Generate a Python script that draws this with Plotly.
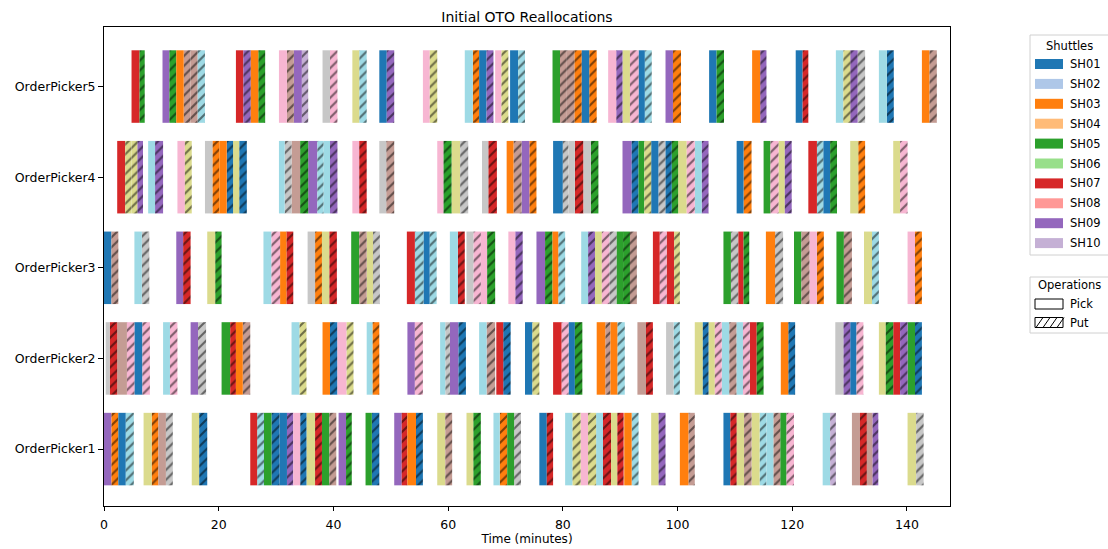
import plotly.graph_objects as go

# ---------------- data ----------------
pickers = ["OrderPicker1", "OrderPicker2", "OrderPicker3", "OrderPicker4", "OrderPicker5"]

tab20 = ["#1f77b4", "#aec7e8", "#ff7f0e", "#ffbb78", "#2ca02c", "#98df8a", "#d62728",
         "#ff9896", "#9467bd", "#c5b0d5", "#8c564b", "#c49c94", "#e377c2", "#f7b6d2",
         "#7f7f7f", "#c7c7c7", "#bcbd22", "#dbdb8d", "#17becf", "#9edae5"]
shuttle_names = ["SH%02d" % i for i in range(1, 21)]
legend_shuttles = shuttle_names[:10]
operations = ["Pick", "Put"]

# (start, end, shuttle, operation)  P = Pick, U = Put
op1_tasks = [
    (0.0, 1.3, "SH09", "P"), (1.3, 2.5, "SH03", "U"), (2.5, 3.8, "SH01", "P"), (3.8, 5.2, "SH20", "U"),
    (6.9, 8.3, "SH18", "P"), (8.3, 9.5, "SH03", "U"), (9.5, 10.8, "SH12", "P"), (10.8, 12.0, "SH16", "U"),
    (15.3, 16.6, "SH18", "P"), (16.6, 18.0, "SH01", "U"),
    (25.5, 26.7, "SH07", "P"), (26.7, 27.9, "SH20", "U"), (27.9, 29.2, "SH05", "P"), (29.2, 30.6, "SH01", "U"),
    (30.6, 31.9, "SH01", "P"), (31.9, 33.0, "SH09", "U"), (33.0, 34.2, "SH14", "P"), (34.2, 35.3, "SH01", "U"),
    (35.3, 36.8, "SH18", "P"), (36.8, 38.0, "SH07", "U"), (38.0, 39.3, "SH05", "P"), (39.3, 40.5, "SH12", "U"),
    (40.9, 42.2, "SH09", "P"), (42.2, 43.2, "SH05", "U"),
    (45.6, 46.7, "SH05", "P"), (46.7, 48.0, "SH01", "U"),
    (50.6, 51.9, "SH09", "P"), (51.9, 52.9, "SH07", "U"), (52.9, 54.4, "SH03", "P"), (54.4, 55.6, "SH01", "U"),
    (58.1, 59.5, "SH18", "P"), (59.5, 60.7, "SH12", "U"),
    (63.2, 64.4, "SH18", "P"), (64.4, 65.7, "SH05", "U"),
    (67.9, 69.0, "SH20", "P"), (69.0, 70.3, "SH03", "U"), (70.3, 71.5, "SH05", "P"), (71.5, 72.7, "SH16", "U"),
    (75.9, 77.2, "SH01", "P"), (77.2, 78.3, "SH07", "U"),
    (80.4, 81.7, "SH20", "P"), (81.7, 83.1, "SH18", "U"), (83.1, 84.4, "SH14", "P"), (84.4, 85.8, "SH18", "U"),
    (85.8, 87.0, "SH20", "P"), (87.0, 88.4, "SH07", "U"), (88.4, 89.5, "SH18", "P"), (89.5, 90.6, "SH07", "U"),
    (90.7, 92.0, "SH03", "P"), (92.0, 93.2, "SH20", "U"),
    (95.4, 96.7, "SH18", "P"), (96.7, 97.9, "SH09", "U"),
    (100.4, 101.9, "SH03", "P"), (101.9, 103.0, "SH12", "U"),
    (108.0, 109.2, "SH01", "P"), (109.2, 110.3, "SH07", "U"), (110.3, 111.6, "SH18", "P"), (111.6, 112.9, "SH12", "U"),
    (112.9, 114.3, "SH18", "P"), (114.3, 115.5, "SH20", "U"), (115.5, 116.7, "SH20", "P"), (116.7, 117.9, "SH12", "U"),
    (117.9, 119.0, "SH05", "P"), (119.0, 120.3, "SH14", "U"),
    (125.3, 126.6, "SH20", "P"), (126.6, 127.6, "SH10", "U"),
    (130.4, 131.8, "SH12", "P"), (131.8, 133.0, "SH07", "U"), (133.0, 134.0, "SH12", "P"), (134.0, 135.0, "SH09", "U"),
    (140.1, 141.6, "SH18", "P"), (141.6, 142.9, "SH16", "U"),
]

op2_tasks = [
    (0.3, 1.0, "SH16", "P"), (1.0, 2.3, "SH07", "U"), (2.3, 4.0, "SH12", "P"), (4.0, 5.3, "SH14", "U"),
    (5.3, 6.7, "SH01", "P"), (6.7, 8.0, "SH14", "U"),
    (10.3, 11.5, "SH20", "P"), (11.5, 12.8, "SH14", "U"),
    (15.1, 16.4, "SH09", "P"), (16.4, 17.8, "SH16", "U"),
    (20.5, 22.0, "SH05", "P"), (22.0, 23.0, "SH07", "U"), (23.0, 24.2, "SH03", "P"), (24.2, 25.5, "SH12", "U"),
    (32.7, 34.1, "SH20", "P"), (34.1, 35.3, "SH18", "U"),
    (38.1, 39.4, "SH03", "P"), (39.4, 40.7, "SH01", "U"), (40.7, 42.3, "SH14", "P"), (42.3, 43.5, "SH18", "U"),
    (45.8, 46.8, "SH20", "P"), (46.8, 48.0, "SH03", "U"),
    (52.9, 54.2, "SH09", "P"), (54.2, 55.6, "SH14", "U"),
    (58.6, 59.5, "SH20", "P"), (59.5, 60.3, "SH16", "U"), (60.3, 61.8, "SH09", "P"), (61.8, 63.1, "SH01", "U"),
    (65.4, 66.7, "SH20", "P"), (66.7, 68.2, "SH12", "U"), (68.4, 69.6, "SH07", "P"), (69.6, 70.9, "SH01", "U"),
    (73.4, 74.7, "SH01", "P"), (74.7, 75.9, "SH18", "U"),
    (78.3, 79.8, "SH07", "P"), (79.8, 81.0, "SH14", "U"), (81.0, 82.1, "SH01", "P"), (82.1, 83.4, "SH05", "U"),
    (85.9, 87.4, "SH03", "P"), (87.4, 88.3, "SH12", "U"), (88.3, 89.5, "SH03", "P"), (89.5, 90.8, "SH20", "U"),
    (93.0, 94.5, "SH12", "P"), (94.5, 95.7, "SH07", "U"),
    (98.0, 99.3, "SH16", "P"), (99.3, 100.4, "SH20", "U"),
    (103.0, 104.4, "SH18", "P"), (104.4, 105.4, "SH01", "U"), (105.4, 106.5, "SH18", "P"), (106.5, 107.7, "SH14", "U"),
    (107.7, 109.0, "SH20", "P"), (109.0, 110.3, "SH12", "U"), (110.3, 111.4, "SH20", "P"), (111.4, 112.6, "SH14", "U"),
    (112.6, 113.8, "SH07", "P"), (113.8, 115.0, "SH05", "U"),
    (118.0, 119.3, "SH03", "P"), (119.3, 120.5, "SH01", "U"),
    (127.5, 128.9, "SH16", "P"), (128.9, 130.1, "SH09", "U"), (130.1, 131.2, "SH01", "P"), (131.2, 132.4, "SH14", "U"),
    (135.1, 136.3, "SH18", "P"), (136.3, 137.6, "SH05", "U"), (137.6, 138.8, "SH07", "P"), (138.8, 140.1, "SH09", "U"),
    (140.1, 141.4, "SH05", "P"), (141.4, 142.6, "SH01", "U"),
]

op3_tasks = [
    (0.0, 1.3, "SH01", "P"), (1.3, 2.5, "SH12", "U"),
    (5.3, 6.6, "SH20", "P"), (6.6, 7.9, "SH16", "U"),
    (12.6, 13.8, "SH09", "P"), (13.8, 15.1, "SH07", "U"),
    (18.0, 19.4, "SH18", "P"), (19.4, 20.5, "SH05", "U"),
    (27.8, 29.2, "SH20", "P"), (29.2, 30.7, "SH14", "U"), (30.7, 31.8, "SH03", "P"), (31.8, 33.0, "SH07", "U"),
    (35.5, 36.8, "SH16", "P"), (36.8, 38.0, "SH03", "U"), (38.0, 39.3, "SH18", "P"), (39.3, 40.6, "SH07", "U"),
    (43.1, 44.5, "SH05", "P"), (44.5, 45.8, "SH12", "U"), (45.8, 46.9, "SH18", "P"), (46.9, 48.1, "SH16", "U"),
    (52.8, 54.2, "SH07", "P"), (54.2, 55.7, "SH20", "U"), (55.7, 56.8, "SH01", "P"), (56.8, 58.0, "SH20", "U"),
    (60.3, 61.7, "SH20", "P"), (61.7, 62.9, "SH07", "U"), (63.2, 64.4, "SH16", "P"), (64.4, 65.7, "SH14", "U"),
    (65.7, 66.8, "SH14", "P"), (66.8, 68.2, "SH05", "U"),
    (70.5, 71.7, "SH14", "P"), (71.7, 73.0, "SH09", "U"),
    (75.4, 76.9, "SH09", "P"), (76.9, 78.2, "SH05", "U"), (78.2, 79.2, "SH03", "P"), (79.2, 80.4, "SH20", "U"),
    (83.2, 84.4, "SH20", "P"), (84.4, 85.6, "SH09", "U"), (85.6, 86.8, "SH18", "P"), (86.8, 88.1, "SH14", "U"),
    (88.1, 89.4, "SH16", "U"), (89.4, 90.5, "SH05", "P"), (90.5, 91.7, "SH05", "U"), (91.7, 92.9, "SH12", "U"),
    (95.7, 96.9, "SH07", "P"), (96.9, 98.1, "SH14", "U"), (98.1, 99.4, "SH07", "P"), (99.4, 100.4, "SH18", "U"),
    (108.0, 109.3, "SH05", "P"), (109.3, 110.6, "SH16", "U"), (110.6, 111.5, "SH07", "P"), (111.5, 112.5, "SH05", "U"),
    (115.4, 117.0, "SH03", "P"), (117.0, 118.4, "SH16", "U"),
    (120.3, 121.6, "SH05", "P"), (121.6, 123.0, "SH12", "U"), (123.0, 124.3, "SH14", "P"), (124.3, 125.5, "SH03", "U"),
    (127.7, 129.0, "SH05", "P"), (129.0, 130.4, "SH12", "U"),
    (132.5, 133.9, "SH18", "P"), (133.9, 135.1, "SH20", "U"),
    (140.1, 141.4, "SH14", "P"), (141.4, 142.6, "SH03", "U"),
]

op4_tasks = [
    (2.3, 3.7, "SH07", "P"), (3.7, 4.8, "SH18", "U"), (4.8, 5.8, "SH18", "U"), (5.8, 6.8, "SH09", "U"),
    (7.7, 8.9, "SH20", "P"), (8.9, 10.3, "SH09", "U"),
    (12.8, 14.1, "SH14", "P"), (14.1, 15.3, "SH18", "U"),
    (17.6, 18.9, "SH16", "P"), (18.9, 20.1, "SH03", "U"), (20.1, 21.4, "SH03", "P"), (21.4, 22.5, "SH01", "U"),
    (22.5, 23.6, "SH18", "P"), (23.6, 24.9, "SH01", "U"),
    (30.5, 31.5, "SH20", "P"), (31.5, 32.7, "SH16", "U"), (32.7, 34.2, "SH12", "P"), (34.2, 35.6, "SH05", "U"),
    (35.6, 37.2, "SH09", "P"), (37.2, 38.3, "SH20", "U"), (38.3, 39.4, "SH20", "P"), (39.4, 40.7, "SH09", "U"),
    (43.3, 44.5, "SH14", "P"), (44.5, 45.8, "SH07", "U"),
    (48.0, 49.2, "SH16", "P"), (49.2, 50.6, "SH12", "U"),
    (58.1, 59.2, "SH14", "P"), (59.2, 60.6, "SH05", "U"), (60.6, 62.1, "SH18", "P"), (62.1, 63.5, "SH16", "U"),
    (65.9, 67.0, "SH16", "P"), (67.0, 68.5, "SH07", "U"),
    (70.2, 71.4, "SH03", "P"), (71.4, 72.8, "SH12", "U"), (72.8, 74.2, "SH09", "P"), (74.2, 75.4, "SH03", "U"),
    (78.3, 80.0, "SH01", "P"), (80.0, 81.0, "SH16", "U"), (81.0, 82.1, "SH16", "P"), (82.1, 83.6, "SH07", "U"),
    (83.6, 84.9, "SH16", "P"), (84.9, 86.2, "SH05", "U"),
    (90.4, 92.0, "SH09", "P"), (92.0, 93.2, "SH01", "U"), (93.2, 94.2, "SH05", "P"), (94.2, 95.4, "SH18", "U"),
    (95.4, 96.7, "SH01", "P"), (96.7, 97.9, "SH16", "U"), (97.9, 99.0, "SH01", "U"), (99.0, 100.1, "SH05", "U"),
    (100.1, 101.6, "SH18", "P"), (101.6, 103.0, "SH14", "U"), (103.0, 104.2, "SH20", "P"), (104.2, 105.4, "SH09", "U"),
    (110.3, 111.5, "SH01", "P"), (111.5, 112.9, "SH03", "U"),
    (115.0, 116.2, "SH05", "P"), (116.2, 117.6, "SH14", "U"), (117.6, 118.7, "SH18", "P"), (118.7, 119.9, "SH09", "U"),
    (122.8, 124.3, "SH07", "P"), (124.3, 125.4, "SH20", "U"), (125.4, 126.6, "SH01", "P"), (126.6, 127.8, "SH05", "U"),
    (130.1, 131.5, "SH18", "P"), (131.5, 132.7, "SH03", "U"),
    (137.6, 138.8, "SH18", "P"), (138.8, 140.1, "SH14", "U"),
]

op5_tasks = [
    (4.8, 6.2, "SH07", "P"), (6.2, 7.1, "SH05", "U"),
    (10.2, 11.4, "SH09", "P"), (11.4, 12.6, "SH05", "U"), (12.6, 13.9, "SH03", "P"), (13.9, 15.1, "SH12", "U"),
    (15.1, 16.3, "SH12", "U"), (16.3, 17.6, "SH20", "U"),
    (23.0, 24.3, "SH07", "P"), (24.3, 25.6, "SH09", "U"), (25.6, 26.9, "SH03", "P"), (26.9, 28.1, "SH05", "U"),
    (30.5, 31.9, "SH14", "P"), (31.9, 33.1, "SH12", "U"), (33.1, 34.5, "SH09", "P"), (34.5, 35.6, "SH10", "U"),
    (38.1, 39.4, "SH16", "P"), (39.4, 40.7, "SH14", "U"),
    (43.3, 44.5, "SH18", "P"), (44.5, 45.8, "SH20", "U"),
    (48.0, 49.3, "SH01", "P"), (49.3, 50.6, "SH09", "U"),
    (55.6, 56.8, "SH14", "P"), (56.8, 58.1, "SH18", "U"),
    (62.9, 64.3, "SH20", "P"), (64.3, 65.4, "SH03", "U"), (65.4, 66.7, "SH01", "P"), (66.7, 67.9, "SH09", "U"),
    (68.2, 69.3, "SH14", "P"), (69.3, 70.5, "SH18", "U"),
    (70.8, 72.2, "SH01", "P"), (72.2, 73.4, "SH20", "U"),
    (78.2, 79.5, "SH05", "P"), (79.5, 80.7, "SH12", "U"), (80.7, 82.0, "SH12", "U"), (82.0, 83.3, "SH03", "U"),
    (83.3, 84.6, "SH01", "P"), (84.6, 85.9, "SH03", "U"),
    (87.9, 89.3, "SH14", "P"), (89.3, 90.4, "SH09", "U"), (90.4, 91.7, "SH18", "P"), (91.7, 93.2, "SH14", "U"),
    (93.2, 94.3, "SH01", "P"), (94.3, 95.5, "SH20", "U"),
    (97.9, 99.2, "SH09", "P"), (99.2, 100.6, "SH03", "U"),
    (105.5, 106.8, "SH01", "P"), (106.8, 108.1, "SH05", "U"),
    (113.0, 114.4, "SH03", "P"), (114.4, 115.5, "SH09", "U"),
    (120.6, 121.8, "SH01", "P"), (121.8, 122.8, "SH07", "U"),
    (127.6, 128.9, "SH20", "P"), (128.9, 130.1, "SH18", "U"), (130.1, 131.4, "SH09", "U"), (131.4, 132.7, "SH16", "U"),
    (135.1, 136.5, "SH20", "P"), (136.5, 137.7, "SH01", "U"),
    (142.6, 143.9, "SH03", "P"), (143.9, 145.2, "SH12", "U"),
]

x_ticks = [0, 20, 40, 60, 80, 100, 120, 140]

# ---------------- figure ----------------
FONT = "DejaVu Sans, Arial, sans-serif"
W, H = 1108, 549
ML, MR, MT, MB = 104, 158, 27, 43
color_of = dict(zip(shuttle_names, tab20))
rows = [op1_tasks, op2_tasks, op3_tasks, op4_tasks, op5_tasks]
HATCH = dict(shape="/", fgcolor="black", fillmode="overlay", size=7, solidity=0.3)

groups = {}
for ri, tasks in enumerate(rows):
    for (s, e, sh, op) in tasks:
        g = groups.setdefault((sh, op), {"y": [], "base": [], "x": []})
        g["y"].append(ri)
        g["base"].append(s)
        g["x"].append(e - s)

fig = go.Figure()
for (sh, op), g in groups.items():
    marker = dict(color=color_of[sh], line=dict(width=0))
    if op == "U":
        marker["pattern"] = HATCH
    fig.add_trace(go.Bar(
        y=g["y"], base=g["base"], x=g["x"], orientation="h", width=0.8,
        marker=marker, showlegend=False, hoverinfo="skip",
    ))

# ---------------- legends (drawn in paper coordinates) ----------------
pw, ph = W - ML - MR, H - MT - MB


def px(x):
    return (x - ML) / pw


def py(y):
    return (H - MB - y) / ph


shapes, annots = [], []
LEG_X0, LEG_X1 = 1030, 1114
SYM_X0, SYM_X1, TXT_X = 1035, 1063, 1068
TXT_SIZE = 11.5

# Shuttles box
shapes.append(dict(type="rect", xref="paper", yref="paper", x0=px(LEG_X0), x1=px(LEG_X1),
                   y0=py(255), y1=py(35), line=dict(color="#d0d0d0", width=1), fillcolor="white",
                   layer="above"))
annots.append(dict(text="Shuttles", x=px((LEG_X0 + 1108) / 2), y=py(46), xref="paper", yref="paper",
                   showarrow=False, xanchor="center", yanchor="middle", font=dict(size=TXT_SIZE)))
for i, sh in enumerate(legend_shuttles):
    yc = 64 + 19.9 * i
    shapes.append(dict(type="rect", xref="paper", yref="paper", x0=px(SYM_X0), x1=px(SYM_X1),
                       y0=py(yc + 5), y1=py(yc - 5), line=dict(width=0), fillcolor=color_of[sh],
                       layer="above"))
    annots.append(dict(text=sh, x=px(TXT_X), y=py(yc), xref="paper", yref="paper",
                       showarrow=False, xanchor="left", yanchor="middle", font=dict(size=TXT_SIZE)))

# Operations box
shapes.append(dict(type="rect", xref="paper", yref="paper", x0=px(LEG_X0), x1=px(LEG_X1),
                   y0=py(333), y1=py(277), line=dict(color="#d0d0d0", width=1), fillcolor="white",
                   layer="above"))
annots.append(dict(text="Operations", x=px((LEG_X0 + 1108) / 2), y=py(285), xref="paper", yref="paper",
                   showarrow=False, xanchor="center", yanchor="middle", font=dict(size=TXT_SIZE)))
for i, op in enumerate(operations):
    yc = 304 + 18.5 * i
    shapes.append(dict(type="rect", xref="paper", yref="paper", x0=px(SYM_X0), x1=px(SYM_X1),
                       y0=py(yc + 5), y1=py(yc - 5), line=dict(color="black", width=1),
                       fillcolor="white", layer="above"))
    if op == "Put":
        for hx in range(SYM_X0 + 1, SYM_X1 - 5, 7):
            shapes.append(dict(type="line", xref="paper", yref="paper",
                               x0=px(hx), y0=py(yc + 5), x1=px(hx + 7), y1=py(yc - 5),
                               line=dict(color="black", width=1), layer="above"))
    annots.append(dict(text=op, x=px(TXT_X), y=py(yc), xref="paper", yref="paper",
                       showarrow=False, xanchor="left", yanchor="middle", font=dict(size=TXT_SIZE)))

fig.update_layout(
    width=W, height=H,
    margin=dict(l=ML, r=MR, t=MT, b=MB, autoexpand=False),
    paper_bgcolor="white", plot_bgcolor="white",
    barmode="overlay", showlegend=False,
    font=dict(family=FONT, size=12.5, color="black"),
    title=dict(text="Initial OTO Reallocations", x=0.5, xref="paper", xanchor="center",
               y=1 - 17 / H, yanchor="middle", font=dict(size=14)),
    xaxis=dict(range=[0, 147.5], tickvals=x_ticks, showgrid=False, zeroline=False,
               showline=True, mirror=True, linecolor="black", linewidth=1,
               ticks="outside", ticklen=4, tickcolor="black", ticklabelstandoff=3,
               title=dict(text="Time (minutes)", standoff=3, font=dict(size=12))),
    yaxis=dict(range=[-0.628, 4.657], tickvals=list(range(len(pickers))), ticktext=pickers,
               showgrid=False, zeroline=False, showline=True, mirror=True,
               linecolor="black", linewidth=1, ticks="outside", ticklen=5, tickcolor="black"),
    shapes=shapes, annotations=annots,
)

fig.write_html("out.html")
